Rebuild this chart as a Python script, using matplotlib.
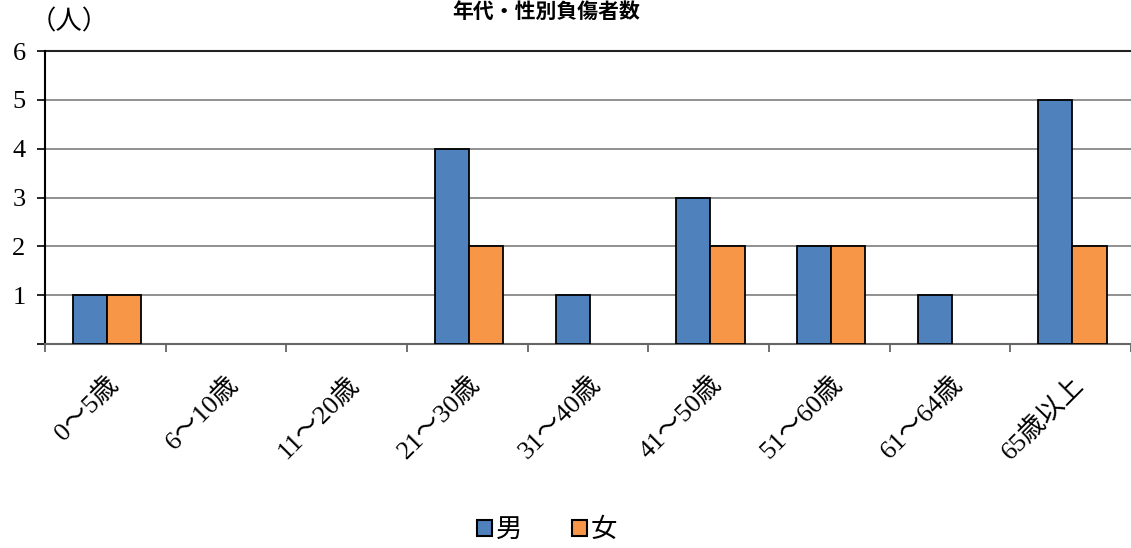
import matplotlib
matplotlib.use("Agg")
import matplotlib.pyplot as plt
import numpy as np

categories = ["0〜5歳", "6〜10歳", "11〜20歳", "21〜30歳", "31〜40歳", "41〜50歳", "51〜60歳", "61〜64歳", "65歳以上"]
male = [1, 0, 0, 4, 1, 3, 2, 1, 5]
female = [1, 0, 0, 2, 0, 2, 2, 0, 2]
series_names = ["男", "女"]
title = "年代・性別負傷者数"
unit_label = "（人）"

plt.rcParams['font.family'] = ['Liberation Serif', 'Noto Sans CJK JP', 'DejaVu Sans']

W, H = 1131, 548
fig = plt.figure(figsize=(W/100, H/100), dpi=100)
ax = fig.add_axes([45/W, 1-344/H, (1131-45)/W, (344-51)/H])

x = np.arange(len(categories))
bw = 0.283
m = np.array(male, dtype=float)
f = np.array(female, dtype=float)
mm = m > 0
fm = f > 0
ax.bar(x[mm] - bw/2 + 0.015, m[mm], bw, color="#4F81BD", edgecolor="black", linewidth=1.3, zorder=3, label=series_names[0])
ax.bar(x[fm] + bw/2 + 0.015, f[fm], bw, color="#F79646", edgecolor="black", linewidth=1.3, zorder=3, label=series_names[1])

ax.set_xlim(-0.5, len(categories) - 0.5)
ax.set_ylim(0, 6)
ax.set_yticks(range(0, 7))
ax.set_yticklabels([""] + [str(v) for v in range(1, 7)])
ax.tick_params(axis='y', labelsize=19, length=6, width=1.2, direction='out', pad=8)
for yv in range(1, 6):
    ax.axhline(yv, color="#888888", linewidth=1.3, zorder=1)
ax.axhline(6, color="#222222", linewidth=1.5, zorder=1, clip_on=False)

ax.set_xticks(np.arange(len(categories)+1) - 0.5, minor=False)
ax.set_xticklabels([])
ax.tick_params(axis='x', length=6, width=1.3, color="#666666", direction='out')
ax.set_xticks(x, minor=True)
ax.set_xticklabels(categories, minor=True, rotation=45, ha='right', va='top', rotation_mode='anchor', fontsize=19)
ax.tick_params(axis='x', which='minor', length=0, pad=20)

for s in ['top', 'right']:
    ax.spines[s].set_visible(False)
ax.spines['left'].set_color("black")
ax.spines['left'].set_linewidth(1.5)
ax.spines['bottom'].set_color("#666666")
ax.spines['bottom'].set_linewidth(1.5)

fig.text(546/W, 1 - 1/H, title, ha='center', va='top', fontsize=15, fontweight='bold',
         family=['Noto Sans CJK JP'])
fig.text(30/W, 1 - 22/H, unit_label, ha='left', va='center', fontsize=19,
         family=['Noto Sans CJK JP'])

leg = fig.legend(loc='center', bbox_to_anchor=(547/W, 1 - 530/H), ncol=2, frameon=False,
                 fontsize=19, handlelength=0.55, handleheight=0.55, columnspacing=1.9, handletextpad=0.15)
for h in leg.legend_handles:
    h.set_linewidth(1.5)

fig.savefig("out.png", dpi=100)
